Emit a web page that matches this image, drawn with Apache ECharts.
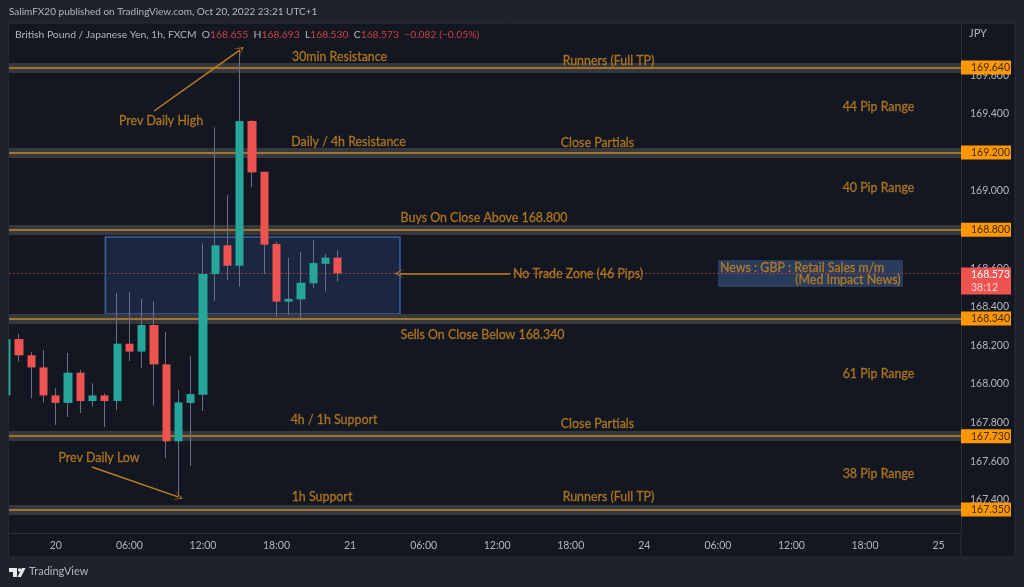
<!DOCTYPE html>
<html>
<head>
<meta charset="utf-8">
<style>
  html, body { margin: 0; padding: 0; background: #1e222d; }
  #chart { width: 1024px; height: 587px; }
</style>
<script src="https://cdn.jsdelivr.net/npm/echarts@6/dist/echarts.min.js"></script>
</head>
<body>
<div id="chart"></div>
<script>
// hours counted from Oct 20 00:00, weekend left out like the source chart
const hours = [-4, -3, -2, -1, 0, 1, 2, 3, 4, 5, 6, 7, 8, 9, 10, 11, 12, 13, 14, 15, 16, 17, 18, 19, 20, 21, 22, 23];
const opens = [167.941, 168.233, 168.149, 168.086, 167.941, 167.902, 168.059, 167.912, 167.941, 167.912, 168.209, 168.168, 168.306, 168.102, 167.703, 167.902, 167.945, 168.570, 168.719, 168.613, 169.363, 169.100, 168.726, 168.427, 168.439, 168.522, 168.623, 168.655];
const closes = [168.233, 168.149, 168.086, 167.941, 167.902, 168.059, 167.912, 167.941, 167.912, 168.209, 168.168, 168.306, 168.102, 167.703, 167.905, 167.948, 168.570, 168.719, 168.613, 169.363, 169.097, 168.722, 168.427, 168.441, 168.525, 168.627, 168.655, 168.573];
const lows = [167.930, 168.116, 167.926, 167.905, 167.788, 167.829, 167.850, 167.882, 167.777, 167.865, 168.119, 168.083, 167.888, 167.617, 167.415, 167.575, 167.860, 168.432, 168.539, 168.504, 169.019, 168.570, 168.349, 168.358, 168.341, 168.496, 168.480, 168.530];
const highs = [168.240, 168.259, 168.166, 168.176, 167.978, 168.161, 168.073, 168.004, 167.952, 168.473, 168.477, 168.441, 168.430, 168.270, 167.969, 168.145, 168.729, 169.330, 168.981, 169.733, 169.368, 169.100, 168.736, 168.655, 168.684, 168.746, 168.674, 168.693];

const levelPrices = [169.640, 169.200, 168.800, 168.340, 167.730, 167.350];
const lastPrice = 168.573;
const countdown = '38:12';

const tickHours = [0, 6, 12, 18, 24, 30, 36, 42, 48, 54, 60, 66, 72];
const tickLabels = ['20', '06:00', '12:00', '18:00', '21', '06:00', '12:00', '18:00', '24', '06:00', '12:00', '18:00', '25'];
// 168.8 and 169.2 sit fully under their level tags
const tickPrices = [167.4, 167.6, 167.8, 168.0, 168.2, 168.4, 168.6, 169.0, 169.4, 169.6];

// annotation texts: [hour, price, text, align]
const notes = [
  [23.14, 169.700, '30min Resistance', 'center'],
  [45.08, 169.679, 'Runners (Full TP)', 'center'],
  [67.10, 169.440, '44 Pip Range', 'center'],
  [8.58, 169.368, 'Prev Daily High', 'center'],
  [23.87, 169.259, 'Daily / 4h Resistance', 'center'],
  [44.18, 169.254, 'Close Partials', 'center'],
  [67.10, 169.021, '40 Pip Range', 'center'],
  [34.93, 168.865, 'Buys On Close Above 168.800', 'center'],
  [42.60, 168.575, 'No Trade Zone (46 Pips)', 'center'],
  [34.80, 168.257, 'Sells On Close Below 168.340', 'center'],
  [67.10, 168.057, '61 Pip Range', 'center'],
  [22.69, 167.819, '4h / 1h Support', 'center'],
  [44.18, 167.798, 'Close Partials', 'center'],
  [3.52, 167.622, 'Prev Daily Low', 'center'],
  [67.10, 167.539, '38 Pip Range', 'center'],
  [21.71, 167.420, '1h Support', 'center'],
  [45.08, 167.420, 'Runners (Full TP)', 'center'],
  [54.18, 168.604, 'News : GBP : Retail Sales m/m', 'left'],
  [68.90, 168.542, '(Med Impact News)', 'right']
];
// arrows: [fromHour, fromPrice, toHour, toPrice]
const arrows = [
  [8.01, 169.415, 15.0, 169.731],
  [2.95, 167.570, 9.97, 167.415],
  [37.05, 168.573, 28.03, 168.573]
];
// shaded boxes: [fromHour, topPrice, toHour, bottomPrice]
const zoneBox = [4.04, 168.762, 28.07, 168.363];
const newsBox = [54.01, 168.643, 69.10, 168.503];

const X_MIN = -3.82;
const X_MAX = 73.83;
const FONT = 'Lato, "Open Sans", sans-serif';
const ORANGE = '#c9841a';
const TEXT = '#b2b5be';
const UP = '#26a69a';
const DOWN = '#ef5350';
const PAGE = '#1e222d';
const chevron = 'path://M0 10 L5 0 L10 10 L5 2.2 Z';

const chart = echarts.init(document.getElementById('chart'));

chart.setOption({
  backgroundColor: PAGE,
  animation: false,
  textStyle: { fontFamily: FONT },
  grid: { left: 9, right: 63, top: 23, bottom: 54 },
  xAxis: {
    type: 'value',
    min: X_MIN,
    max: X_MAX,
    splitLine: { show: false },
    axisLine: { onZero: false, lineStyle: { color: '#2a2e39' } },
    axisTick: { show: false },
    axisLabel: {
      customValues: tickHours,
      formatter: v => tickLabels[tickHours.indexOf(v)],
      color: TEXT,
      fontSize: 10.5,
      margin: 7,
      fontFamily: FONT
    }
  },
  yAxis: {
    type: 'value',
    position: 'right',
    min: 167.228,
    max: 169.871,
    splitLine: { show: false },
    axisLine: { show: true, onZero: false, lineStyle: { color: '#2a2e39' } },
    axisTick: { show: false },
    axisLabel: {
      customValues: tickPrices,
      formatter: v => v.toFixed(3),
      color: TEXT,
      fontSize: 10.5,
      margin: 9,
      fontFamily: FONT
    }
  },
  graphic: [
    { type: 'rect', z: -10, silent: true, shape: { x: 8.5, y: 23, width: 1006.5, height: 534 },
      style: { fill: '#131722', stroke: '#2a2e39', lineWidth: 1 } },
    { type: 'line', z: -9, silent: true, shape: { x1: 961, y1: 533, x2: 961, y2: 557 }, style: { stroke: '#2a2e39' } },
    // candlesticks are not cut at the grid edge, so the first bar is covered here
    { type: 'rect', z: 100, silent: true, shape: { x: 0, y: 23, width: 8.5, height: 534 }, style: { fill: PAGE } },
    { type: 'text', left: 9, top: 7, style: { text: 'SalimFX20 published on TradingView.com, Oct 20, 2022 23:21 UTC+1', fill: TEXT, font: '10px ' + FONT } },
    { type: 'text', left: 15, top: 30, style: {
        text: 'British Pound / Japanese Yen, 1h, FXCM  {k|O}{v|168.655}  {k|H}{v|168.693}  {k|L}{v|168.530}  {k|C}{v|168.573}  {v|\u22120.082 (\u22120.05%)}',
        fill: TEXT, font: '10.3px ' + FONT,
        rich: { k: { fill: TEXT, font: '10.3px ' + FONT }, v: { fill: '#d0403f', font: '10.3px ' + FONT } }
      } },
    { type: 'text', left: 969, top: 28, style: { text: 'JPY', fill: TEXT, font: '11px ' + FONT } },
    // TradingView mark
    { type: 'polygon', silent: true, shape: { points: [[9, 568], [17, 568], [17, 577], [13, 577], [13, 572], [9, 572]] }, style: { fill: '#e8e9ec' } },
    { type: 'circle', silent: true, shape: { cx: 19.6, cy: 570, r: 1.7 }, style: { fill: '#e8e9ec' } },
    { type: 'polygon', silent: true, shape: { points: [[22, 568], [25.5, 568], [21, 577], [17.5, 577]] }, style: { fill: '#e8e9ec' } },
    { type: 'text', left: 29, top: 566, style: { text: 'TradingView', fill: TEXT, font: '11px ' + FONT } }
  ],
  series: [
    // boxes behind everything
    {
      type: 'line', data: [], silent: true,
      markArea: {
        silent: true, z: 1,
        data: [
          [{ coord: [zoneBox[0], zoneBox[1]], itemStyle: { color: '#1b2740', borderColor: '#3f5f9f', borderWidth: 1.5 } }, { coord: [zoneBox[2], zoneBox[3]] }],
          [{ coord: [newsBox[0], newsBox[1]], itemStyle: { color: '#2a3c5c' } }, { coord: [newsBox[2], newsBox[3]] }]
        ]
      }
    },
    // grey bands of the levels
    {
      type: 'line', data: [], silent: true,
      markLine: {
        silent: true, z: 2, symbol: 'none', animation: false,
        label: { show: false },
        lineStyle: { color: '#36383e', width: 10, type: 'solid' },
        data: levelPrices.map(p => ({ yAxis: p }))
      }
    },
    // orange level lines with price tags
    {
      type: 'line', data: [], silent: true,
      markLine: {
        silent: true, z: 3, symbol: 'none', animation: false, precision: 3,
        lineStyle: { color: '#c08a30', width: 1.5, type: 'solid' },
        label: {
          show: true, position: 'end', distance: 0,
          formatter: p => p.value.toFixed(3),
          backgroundColor: '#ff9800', color: '#3a2c10', fontSize: 10.5, fontFamily: FONT,
          width: 40, height: 14, lineHeight: 14, align: 'left', padding: [0, 0, 0, 10]
        },
        data: levelPrices.map(p => ({ yAxis: p }))
      }
    },
    // last price dotted line and its tag
    {
      type: 'line', z: 4, silent: true, showSymbol: false,
      lineStyle: { color: '#9c3b42', width: 1, type: [2, 2] },
      data: [[X_MIN, lastPrice], [X_MAX, lastPrice]],
      markLine: {
        silent: true, z: 20, symbol: 'none', animation: false, precision: 3,
        lineStyle: { color: 'transparent' },
        label: {
          show: true, position: 'end', distance: 0,
          formatter: p => '{a|' + p.value.toFixed(3) + '}\n{b|' + countdown + '}',
          backgroundColor: '#ef5350', padding: [1, 0, 1, 10], width: 40,
          align: 'left', verticalAlign: 'top', offset: [0, -6],
          rich: {
            a: { color: '#ffffff', fontSize: 10.5, fontFamily: FONT, lineHeight: 12.5 },
            b: { color: '#ffd5d4', fontSize: 10.5, fontFamily: FONT, lineHeight: 12.5 }
          }
        },
        data: [{ yAxis: lastPrice }]
      }
    },
    // grey wicks
    {
      type: 'candlestick', z: 5, barWidth: 1, silent: true,
      itemStyle: { color: '#6b7080', color0: '#6b7080', borderColor: '#6b7080', borderColor0: '#6b7080', borderWidth: 1 },
      data: hours.map((h, i) => [h, opens[i], closes[i], lows[i], highs[i]])
    },
    // bodies only, low and high clamped to the body
    {
      type: 'candlestick', z: 6, barWidth: 8.7, silent: true,
      itemStyle: { color: UP, color0: DOWN, borderColor: UP, borderColor0: DOWN, borderWidth: 0 },
      data: hours.map((h, i) => [h, opens[i], closes[i], Math.min(opens[i], closes[i]), Math.max(opens[i], closes[i])])
    },
    // arrows
    {
      type: 'line', data: [], silent: true,
      markLine: {
        silent: true, z: 7, animation: false, symbol: ['none', chevron], symbolSize: 10,
        label: { show: false },
        lineStyle: { color: '#c17f1a', width: 1.5, type: 'solid' },
        data: arrows.map(a => [{ coord: [a[0], a[1]] }, { coord: [a[2], a[3]] }])
      }
    },
    // texts
    {
      type: 'scatter', z: 8, silent: true, symbolSize: 1,
      itemStyle: { color: 'transparent' },
      label: {
        show: true, position: 'inside', color: ORANGE, fontSize: 12.4, fontFamily: FONT,
        textBorderColor: ORANGE, textBorderWidth: 0.3, offset: [0, 1],
        formatter: p => p.value[2]
      },
      data: notes.map(n => ({ value: n, label: { align: n[3] } }))
    }
  ]
});
</script>
</body>
</html>
